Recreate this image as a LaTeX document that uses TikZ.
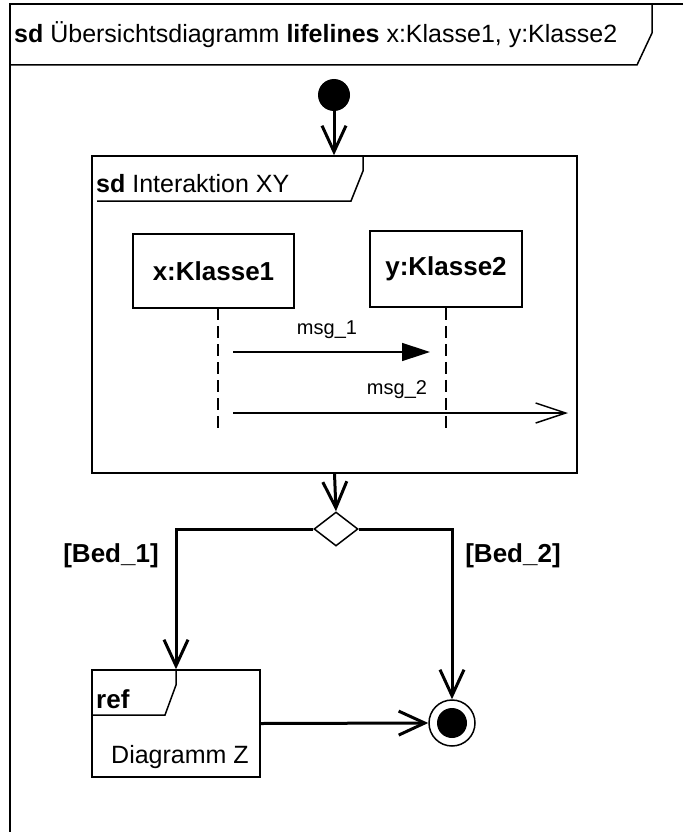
\documentclass[tikz,border=0pt]{standalone}
\usepackage{fontspec}
\setmainfont{Liberation Sans}
\usetikzlibrary{arrows.meta,shapes.geometric}
\begin{document}
\begin{tikzpicture}[x=1pt,y=-1pt,
  frameline/.style={line width=1.5pt},
  flow/.style={line width=3pt, -{Straight Barb[length=26pt,width=24pt]}},
  boxnode/.style={draw, line width=1.5pt, inner sep=0pt},
  lbl/.style={inner sep=0pt, font=\fontsize{25}{29}\selectfont},
  blbl/.style={inner sep=0pt, font=\bfseries\fontsize{26}{30}\selectfont},
  msglbl/.style={inner sep=0pt, font=\fontsize{20}{24}\selectfont},
  lifeline/.style={line width=1.5pt, dash pattern=on 12pt off 6pt},
  msgline/.style={line width=1.5pt}
]
\useasboundingbox (0,0) rectangle (683,832);
% outer frame
\draw[frameline] (683,4) -- (10,4) -- (10,832);
\draw[frameline] (10,65) -- (637,65) -- (652,33) -- (652,4);
\node[lbl, anchor=west] (title) at (14,35) {\textbf{sd} Übersichtsdiagramm \textbf{lifelines} x:Klasse1, y:Klasse2};

% initial node
\node[circle, fill, minimum size=32pt, inner sep=0pt] (init) at (334,95) {};

% interaction frame
\node[boxnode, minimum width=485pt, minimum height=317pt] (ia) at (334.5,314.5) {};
\draw[frameline] (97,201) -- (351,201) -- (363,171) -- (363,156);
\node[lbl, anchor=west] (iatitle) at (96,184) {\textbf{sd} Interaktion XY};

% lifeline heads
\node[boxnode, blbl, minimum width=161pt, minimum height=74pt] (xb) at (213.5,271) {x:Klasse1};
\node[boxnode, blbl, minimum width=152pt, minimum height=76pt] (yb) at (446,269) {y:Klasse2};

\coordinate (xtop) at (218,308);
\coordinate (xbot) at (218,428);
\coordinate (ybot) at (446,428);
\draw[lifeline] (xtop) -- (xbot);
\draw[lifeline] (yb.south) -- (ybot);

% messages
\coordinate (m1s) at (233,352);
\coordinate (m1e) at (430,352);
\coordinate (m2s) at (233,413);
\coordinate (m2e) at (568,413);
\draw[msgline, -{Triangle[length=28pt,width=18pt]}] (m1s) -- (m1e);
\draw[msgline, -{Straight Barb[length=30pt,width=20pt]}] (m2s) -- (m2e);
\node[msglbl] (l1) at (327,330) {msg\_1};
\node[msglbl] (l2) at (397,390) {msg\_2};

% decision
\node[diamond, draw, line width=1.5pt, minimum width=44pt, minimum height=34pt, inner sep=0pt] (dec) at (336,529) {};
\node[blbl] (b1) at (111,556) {[Bed\_1]};
\node[blbl] (b2) at (513,556) {[Bed\_2]};

% ref frame
\node[boxnode, minimum width=168pt, minimum height=107pt] (ref) at (176,723.5) {};
\draw[frameline] (92,715) -- (165,715) -- (176,685) -- (176,670);
\node[blbl, anchor=west] (reft) at (96,699) {ref};
\node[lbl] (refz) at (180,757) {Diagramm Z};

% final node
\node[circle, draw, line width=1.5pt, minimum size=46pt, inner sep=0pt] (fin) at (452,723) {};
\fill (fin.center) circle (15pt);

% flows
\draw[flow] (init) -- (init |- ia.north);
\draw[flow] (ia.south) -- (dec.north);
\draw[flow] (dec.west) -| (ref.north);
\draw[flow] (dec.east) -| (fin.north);
\draw[flow] (ref.east) -- (fin.west);
\end{tikzpicture}
\end{document}
